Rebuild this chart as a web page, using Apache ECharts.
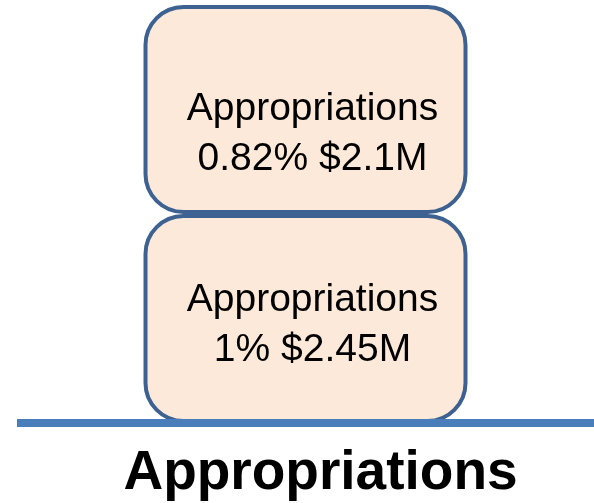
<!DOCTYPE html>
<html>
<head>
<meta charset="utf-8">
<script src="https://cdn.jsdelivr.net/npm/echarts@6/dist/echarts.min.js"></script>
<style>html,body{margin:0;padding:0;background:#fff}#c{width:594px;height:503px}</style>
</head>
<body>
<div id="c"></div>
<script>
// Data
const categories = ['Appropriations'];
const blockNames = ['Appropriations', 'Appropriations'];
const percents = ['1%', '0.82%'];
const amounts = ['$2.45M', '$2.1M'];
// The two blocks are drawn with equal heights in the reference
const blockHeights = [1, 1];

const labelOffsets = [[7, 7], [7, 25]];

const chart = echarts.init(document.getElementById('c'));
const series = blockHeights.map((h, i) => ({
  type: 'bar',
  stack: 'total',
  name: blockNames[i] + ' ' + percents[i],
  data: [h],
  barWidth: 324,
  itemStyle: {
    color: '#fde9d9',
    borderColor: '#3d6291',
    borderWidth: 4,
    borderRadius: 38
  },
  label: {
    show: true,
    position: 'inside',
    offset: labelOffsets[i],
    formatter: blockNames[i] + '\n' + percents[i] + ' ' + amounts[i],
    fontFamily: 'Liberation Sans',
    fontSize: 39,
    lineHeight: 50,
    color: '#000'
  }
}));

chart.setOption({
  animation: false,
  grid: { left: 17, right: 0, top: 5, bottom: 80 },
  xAxis: {
    type: 'category',
    data: categories,
    z: 5,
    axisLine: { lineStyle: { color: '#4a7ebb', width: 8, cap: 'butt' } },
    axisTick: { show: false },
    axisLabel: {
      margin: 23,
      padding: [0, 0, 0, 30],
      fontFamily: 'Liberation Sans',
      fontWeight: 'bold',
      fontSize: 55,
      color: '#000'
    }
  },
  yAxis: {
    type: 'value',
    min: 0,
    max: 2,
    show: false,
    splitLine: { show: false }
  },
  series: series
});
</script>
</body>
</html>
